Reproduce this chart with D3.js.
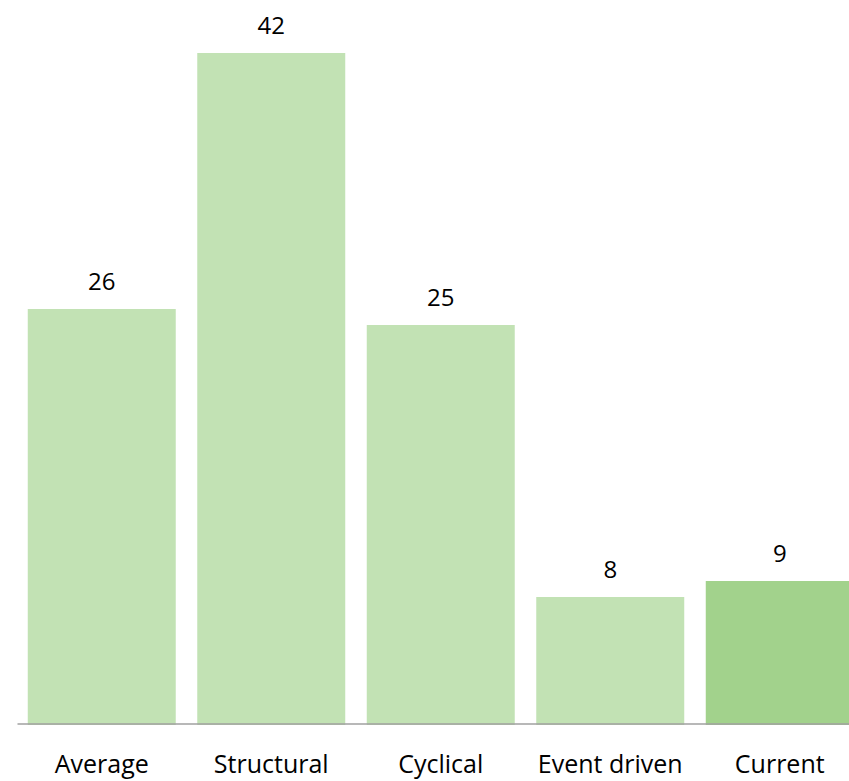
<!DOCTYPE html>
<html>
<head>
<meta charset="utf-8">
<script src="https://cdn.jsdelivr.net/npm/d3@7"></script>
<style>
  html, body { margin: 0; padding: 0; background: #fff; }
  svg { display: block; }
  text { font-family: "Open Sans", "Noto Sans", sans-serif; fill: #000; }
</style>
</head>
<body>
<svg id="chart" width="849" height="781"></svg>
<script>
// Number of periods by type
const categories = ["Average", "Structural", "Cyclical", "Event driven", "Current"];
const values = [26, 42, 25, 8, 9];
const highlight = ["Current"];

const colorBase = "#c2e2b4";
const colorHighlight = "#a2d28c";

const svg = d3.select("#chart");

const x = d3.scaleBand()
  .domain(categories)
  .range([17, 864.5])
  .paddingInner(0.127)
  .paddingOuter(0.0635);

const y = d3.scaleLinear()
  .domain([0, 42])
  .range([725, 53]);

// bars
svg.append("g").selectAll("rect")
  .data(categories)
  .join("rect")
  .attr("x", d => x(d))
  .attr("y", (d, i) => y(values[i]))
  .attr("width", x.bandwidth())
  .attr("height", (d, i) => y(0) - y(values[i]))
  .attr("fill", d => highlight.includes(d) ? colorHighlight : colorBase);

// value labels
svg.append("g").selectAll("text")
  .data(categories)
  .join("text")
  .attr("x", d => x(d) + x.bandwidth() / 2)
  .attr("y", (d, i) => y(values[i]) - 19)
  .attr("text-anchor", "middle")
  .style("font-size", "24px")
  .text((d, i) => values[i]);

// category axis
const axis = svg.append("g")
  .attr("transform", "translate(0,723.5)")
  .call(d3.axisBottom(x).tickSize(0).tickPadding(0));
axis.select(".domain")
  .attr("stroke", "#a0a0a0")
  .attr("stroke-width", 1.5);
axis.selectAll(".tick text")
  .attr("dy", null)
  .attr("y", 49.5)
  .style("font-family", "'Open Sans', 'Noto Sans', sans-serif")
  .style("font-size", "25px")
  .attr("fill", "#000");
</script>
</body>
</html>
